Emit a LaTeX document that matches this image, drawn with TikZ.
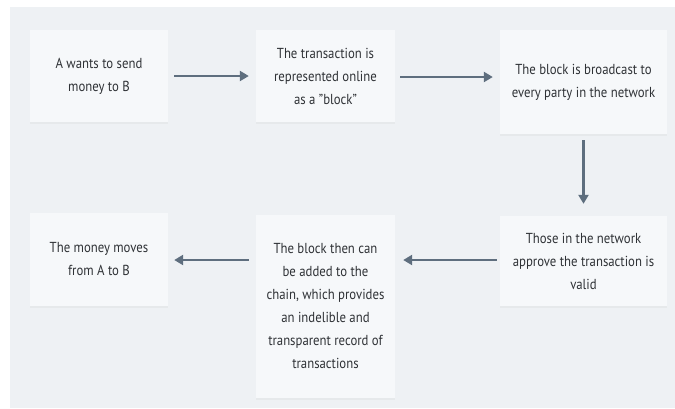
\documentclass[tikz,border=0pt]{standalone}
\usepackage{fontspec}
\setmainfont[FakeStretch=0.88]{PT Sans}
\usepackage{xcolor}
\usetikzlibrary{arrows.meta,shadows}

\definecolor{pagebg}{HTML}{EEF1F4}
\definecolor{boxfill}{HTML}{F6F8FA}
\definecolor{arrowgray}{HTML}{5E6E7E}
\definecolor{textgray}{HTML}{2F3236}

\begin{document}
\begin{tikzpicture}[x=1pt, y=-1pt,
      block/.style={rectangle, fill=boxfill, align=center, text=textgray,
        font=\fontsize{14.5}{23}\selectfont, inner sep=0pt,
        drop shadow={opacity=0.07, shadow xshift=0pt, shadow yshift=-1.5pt}},
      flow/.style={-{Triangle[length=9pt,width=10pt]}, line width=2.8pt, draw=arrowgray}]
    \useasboundingbox (0,0) rectangle (675,408);
    \fill[white] (0,0) rectangle (675,408);
    \fill[pagebg] (10,7) rectangle (675,408);

    \node[block, minimum width=138pt, minimum height=92pt] (b1) at (99,76)
      {A wants to send\\money to B};
    \node[block, minimum width=139pt, minimum height=92pt] (b2) at (325.5,76)
      {The transaction is\\represented online\\as a "block"};
    \node[block, minimum width=167pt, minimum height=104pt] (b3) at (583.5,82)
      {The block is broadcast to\\every party in the network};
    \node[block, minimum width=167pt, minimum height=90pt] (b4) at (583.5,261)
      {Those in the network\\approve the transaction is\\valid};
    \node[block, minimum width=139pt, minimum height=183pt] (b5) at (325.5,306.5)
      {The block then can\\be added to the\\chain, which provides\\an indelible and\\transparent record of\\transactions};
    \node[block, minimum width=138pt, minimum height=93pt] (b6) at (99,259.5)
      {The money moves\\from A to B};

    \draw[flow, shorten <=6pt, shorten >=7pt] (b1) -- (b2);
    \draw[flow, shorten <=5pt, shorten >=7pt] (b2.east |- 0,77) -- (b3.west |- 0,77);
    \draw[flow, shorten <=6pt, shorten >=12pt] (b3) -- (b4);
    \draw[flow, shorten <=3pt, shorten >=8pt] (b4.west |- 0,260) -- (b5.east |- 0,260);
    \draw[flow, shorten <=7pt, shorten >=6pt] (b5.west |- 0,260) -- (b6.east |- 0,260);
  \end{tikzpicture}
\end{document}
